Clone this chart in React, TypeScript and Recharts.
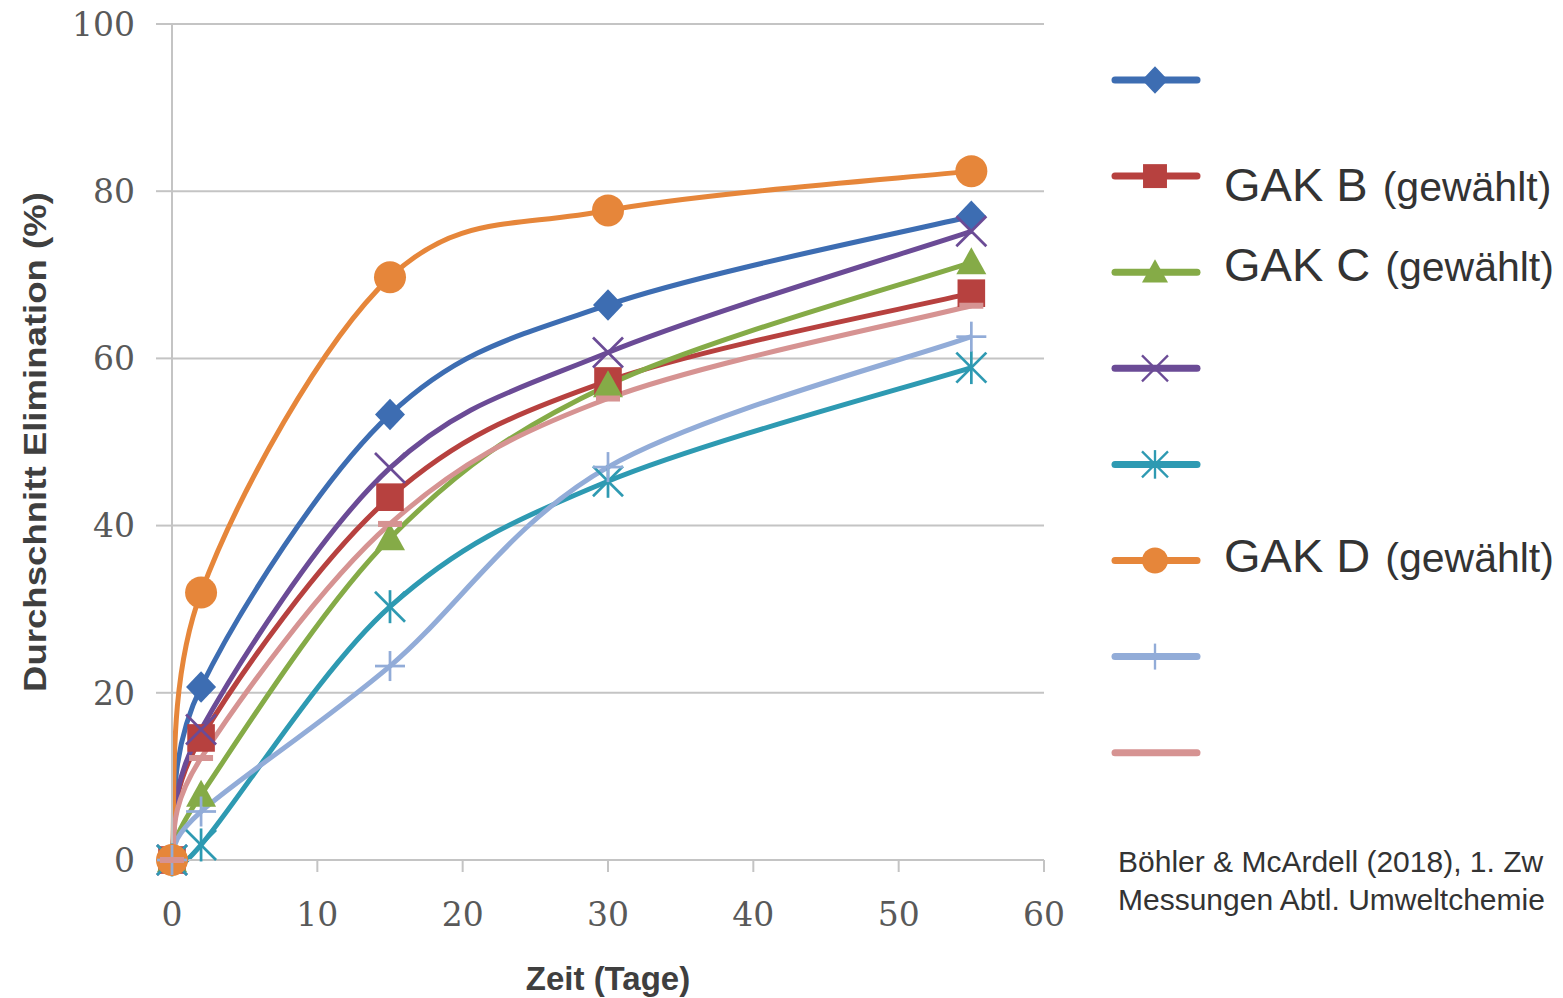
import React from 'react';
import {
  LineChart,
  Line,
  XAxis,
  YAxis,
  CartesianGrid,
  Legend,
  Label,
} from 'recharts';

// Zeit (Tage)
const days = [0, 2, 15, 30, 55];

// Durchschnitt Elimination (%) per GAK
const gakA = [0, 20.7, 53.3, 66.4, 77.0];
const gakB = [0, 14.6, 43.4, 57.3, 67.8];
const gakC = [0, 7.8, 38.5, 56.8, 71.5];
const gakE = [0, 15.6, 46.9, 60.7, 75.2];
const gakF = [0, 1.8, 30.3, 45.3, 58.9];
const gakD = [0, 32.0, 69.7, 77.7, 82.4];
const gakG = [0, 5.8, 23.2, 47.0, 62.6];
const gakH = [0, 12.2, 40.2, 55.2, 66.3];

const xTicks = [0, 10, 20, 30, 40, 50, 60];
const yTicks = [0, 20, 40, 60, 80, 100];

type MarkerShape = 'diamond' | 'square' | 'triangle' | 'x' | 'star' | 'circle' | 'plus' | 'dash';

interface Series {
  key: string;
  values: number[];
  color: string;
  marker: MarkerShape;
  label: string; // blank in the original legend
  labelDy: number;
}

const SERIES: Series[] = [
  { key: 'a', values: gakA, color: '#3d6db2', marker: 'diamond', label: '', labelDy: 0 },
  { key: 'b', values: gakB, color: '#b7413f', marker: 'square', label: 'GAK B', labelDy: 25 },
  { key: 'c', values: gakC, color: '#85ab47', marker: 'triangle', label: 'GAK C', labelDy: 9 },
  { key: 'e', values: gakE, color: '#6b4b96', marker: 'x', label: '', labelDy: 0 },
  { key: 'f', values: gakF, color: '#2e9ab2', marker: 'star', label: '', labelDy: 0 },
  { key: 'd', values: gakD, color: '#e6863a', marker: 'circle', label: 'GAK D', labelDy: 11 },
  { key: 'g', values: gakG, color: '#92acd8', marker: 'plus', label: '', labelDy: 0 },
  { key: 'h', values: gakH, color: '#d69392', marker: 'dash', label: '', labelDy: 0 },
];

const data = days.map((t, i) => {
  const row: Record<string, number> = { t };
  SERIES.forEach((s) => {
    row[s.key] = s.values[i];
  });
  return row;
});

const GRID = '#c4c4c4';
const TICK = '#595959';
const TITLE = '#3f3f3f';

// Excel-style smoothed line (Catmull-Rom through the points, as bezier segments)
const smoothCurve = (context: any) => {
  let pts: number[][] = [];
  return {
    areaStart() {},
    areaEnd() {},
    lineStart() {
      pts = [];
    },
    point(x: number, y: number) {
      pts.push([+x, +y]);
    },
    lineEnd() {
      if (!pts.length) return;
      context.moveTo(pts[0][0], pts[0][1]);
      for (let i = 0; i < pts.length - 1; i++) {
        const p0 = pts[i - 1] || pts[i];
        const p1 = pts[i];
        const p2 = pts[i + 1];
        const p3 = pts[i + 2] || p2;
        context.bezierCurveTo(
          p1[0] + (p2[0] - p0[0]) / 6,
          p1[1] + (p2[1] - p0[1]) / 6,
          p2[0] - (p3[0] - p1[0]) / 6,
          p2[1] - (p3[1] - p1[1]) / 6,
          p2[0],
          p2[1]
        );
      }
    },
  };
};

function Marker({ shape, x, y, color, size }: { shape: MarkerShape; x: number; y: number; color: string; size: number }) {
  const h = size / 2;
  const thin = Math.max(2, size / 11);
  switch (shape) {
    case 'diamond':
      return <polygon points={`${x},${y - h * 1.05} ${x + h},${y} ${x},${y + h * 1.05} ${x - h},${y}`} fill={color} />;
    case 'square':
      return <rect x={x - h * 0.92} y={y - h * 0.92} width={h * 1.84} height={h * 1.84} fill={color} />;
    case 'triangle':
      return <polygon points={`${x},${y - h} ${x + h},${y + h * 0.8} ${x - h},${y + h * 0.8}`} fill={color} />;
    case 'circle':
      return <circle cx={x} cy={y} r={h} fill={color} />;
    case 'x':
      return (
        <g stroke={color} strokeWidth={thin}>
          <line x1={x - h} y1={y - h} x2={x + h} y2={y + h} />
          <line x1={x - h} y1={y + h} x2={x + h} y2={y - h} />
        </g>
      );
    case 'star':
      return (
        <g stroke={color} strokeWidth={thin}>
          <line x1={x - h} y1={y - h} x2={x + h} y2={y + h} />
          <line x1={x - h} y1={y + h} x2={x + h} y2={y - h} />
          <line x1={x} y1={y - h * 1.1} x2={x} y2={y + h * 1.1} />
        </g>
      );
    case 'plus':
      return (
        <g stroke={color} strokeWidth={thin}>
          <line x1={x} y1={y - h} x2={x} y2={y + h} />
          <line x1={x - h} y1={y} x2={x + h} y2={y} />
        </g>
      );
    case 'dash':
      return <rect x={x - h * 0.8} y={y - 3} width={h * 1.6} height={6} fill={color} />;
    default:
      return null;
  }
}

const renderDot = (s: Series) => (props: any) => {
  const { cx, cy, index } = props;
  if (cx == null || cy == null) return <g key={`${s.key}-${index}`} />;
  return (
    <g key={`${s.key}-${index}`}>
      <Marker shape={s.marker} x={cx} y={cy} color={s.color} size={s.marker === 'circle' ? 32 : 30} />
    </g>
  );
};

const ROW_H = 96.1;

const renderLegend = () => (
  <svg width={453} height={780} style={{ overflow: 'visible' }}>
    {SERIES.map((s, i) => {
      const cy = 48 + i * ROW_H;
      return (
        <g key={s.key}>
          <line x1={5} y1={cy} x2={87} y2={cy} stroke={s.color} strokeWidth={7} strokeLinecap="round" />
          <Marker shape={s.marker} x={45} y={cy} color={s.color} size={s.marker === 'dash' ? 0 : 26} />
          {s.label && (
            <text
              x={114}
              y={cy + s.labelDy}
              fill="#333333"
              fontFamily="'Liberation Sans', Arial, sans-serif"
            >
              <tspan fontSize={47}>{s.label}</tspan>
              <tspan fontSize={41} dx={15}>(gewählt)</tspan>
            </text>
          )}
        </g>
      );
    })}
  </svg>
);

export default function App() {
  return (
    <div
      style={{
        position: 'absolute',
        left: 0,
        top: 0,
        width: 1563,
        height: 998,
        overflow: 'hidden',
        background: '#ffffff',
      }}
    >
      <LineChart
        width={1563}
        height={998}
        data={data}
        margin={{ top: 24, right: 519, left: 0, bottom: 0 }}
      >
        <CartesianGrid vertical={false} stroke={GRID} strokeWidth={2} horizontalValues={yTicks} />
        <XAxis
          dataKey="t"
          type="number"
          domain={[0, 60]}
          ticks={xTicks}
          height={138}
          stroke={GRID}
          strokeWidth={2}
          tickSize={12}
          tickMargin={31}
          tick={{ fill: TICK, fontSize: 33, fontFamily: "'DejaVu Serif', serif" }}
          tickLine={{ stroke: GRID, strokeWidth: 2 }}
        >
          <Label
            content={({ viewBox }: any) => (
              <text
                x={viewBox.x + viewBox.width / 2}
                y={viewBox.y + 130}
                textAnchor="middle"
                fill={TITLE}
                fontSize={33}
                fontWeight="bold"
                fontFamily="'Liberation Sans', Arial, sans-serif"
              >
                Zeit (Tage)
              </text>
            )}
          />
        </XAxis>
        <YAxis
          type="number"
          domain={[0, 100]}
          ticks={yTicks}
          width={172}
          stroke={GRID}
          strokeWidth={2}
          tickSize={16}
          tickMargin={21}
          tick={{ fill: TICK, fontSize: 33, fontFamily: "'DejaVu Serif', serif" }}
          tickLine={{ stroke: GRID, strokeWidth: 2 }}
        >
          <Label
            content={({ viewBox }: any) => {
              const x = 35;
              const y = viewBox.y + viewBox.height / 2;
              return (
                <text
                  x={x}
                  y={y}
                  transform={`rotate(-90, ${x}, ${y})`}
                  textAnchor="middle"
                  dominantBaseline="central"
                  fill={TITLE}
                  fontSize={31}
                  fontWeight="bold"
                  fontFamily="'Liberation Sans', Arial, sans-serif"
                  textLength={500}
                  lengthAdjust="spacingAndGlyphs"
                >
                  Durchschnitt Elimination (%)
                </text>
              );
            }}
          />
        </YAxis>
        <Legend
          layout="vertical"
          align="center"
          verticalAlign="middle"
          content={renderLegend}
          wrapperStyle={{ left: 1110, top: 32, width: 453, height: 780 }}
        />
        {SERIES.map((s) => (
          <Line
            key={s.key}
            dataKey={s.key}
            name={s.label || s.key}
            type={smoothCurve as any}
            stroke={s.color}
            strokeWidth={5}
            dot={renderDot(s)}
            activeDot={false}
            isAnimationActive={false}
          />
        ))}
      </LineChart>
      <div
        style={{
          position: 'absolute',
          left: 1118,
          top: 843,
          fontFamily: "'Liberation Sans', Arial, sans-serif",
          fontSize: 30,
          lineHeight: '38px',
          color: '#333333',
          whiteSpace: 'nowrap',
        }}
      >
        Böhler &amp; McArdell (2018), 1. Zw
        <br />
        Messungen Abtl. Umweltchemie
      </div>
    </div>
  );
}
